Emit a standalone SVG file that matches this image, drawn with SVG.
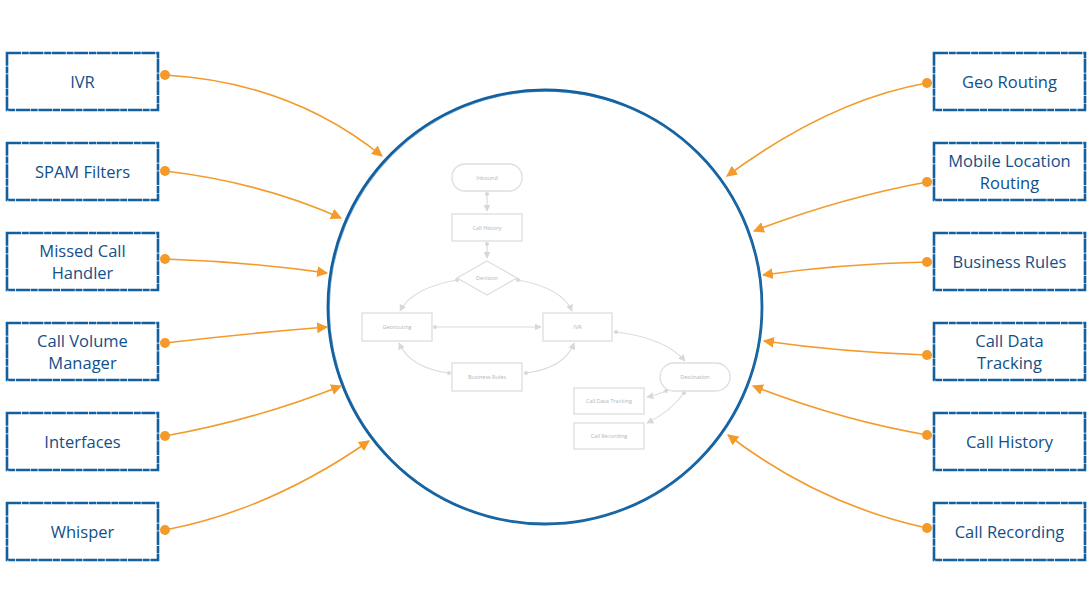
<svg xmlns="http://www.w3.org/2000/svg" width="1091" height="614" viewBox="0 0 1091 614">
<defs>
<style>
.box{fill:#fff;stroke:#14609e;stroke-width:2.6;stroke-dasharray:14 0.8 7 0.6}
.lbl{font-family:"Open Sans","Liberation Sans",sans-serif;font-size:16.5px;fill:#11508a;text-anchor:middle}
.con{fill:none;stroke:#f39a2a;stroke-width:1.6}
.dot{fill:#f39a2a}
.ib{fill:#fff;stroke:#dedede;stroke-width:1.3}
.it{font-family:"Open Sans","Liberation Sans",sans-serif;font-size:5.5px;fill:#b5b5b5;text-anchor:middle}
.il{fill:none;stroke:#dcdcdc;stroke-width:1.2}
.idot{fill:#d8d8d8}
</style>
<marker id="ah" viewBox="0 0 10 10" refX="9" refY="5" markerWidth="11" markerHeight="11" markerUnits="userSpaceOnUse" orient="auto">
<path d="M0,0 L10,5 L0,10 Z" fill="#f39a2a"/>
</marker>
<marker id="ih" viewBox="0 0 10 10" refX="9" refY="5" markerWidth="7" markerHeight="7" markerUnits="userSpaceOnUse" orient="auto">
<path d="M0,0 L10,5 L0,10 Z" fill="#d8d8d8"/>
</marker>
</defs>
<rect width="1091" height="614" fill="#fff"/>

<g id="hub">
<circle cx="545" cy="307" r="217" fill="none" stroke="#12609f" stroke-width="2.8"/>
<circle cx="545.8" cy="307.6" r="216.5" fill="none" stroke="#2c74b0" stroke-width="1" opacity="0.6"/>
</g>

<g id="inner">
<g class="il">
<path d="M487,194 L487,211" marker-end="url(#ih)"/>
<path d="M487,244 L487,258" marker-end="url(#ih)"/>
<path d="M457,280 Q412,288 400,311" marker-end="url(#ih)"/>
<path d="M518,280 Q562,288 572,311" marker-end="url(#ih)"/>
<path d="M435,327 L541,327" marker-end="url(#ih)"/>
<path d="M449,373 Q410,368 399,343" marker-end="url(#ih)"/>
<path d="M526,373 Q565,368 574,343" marker-end="url(#ih)"/>
<path d="M616,332 Q665,338 685,361" marker-end="url(#ih)"/>
<path d="M666,391 Q657,395 647,397" marker-end="url(#ih)"/>
<path d="M684,393 Q670,412 647,423" marker-end="url(#ih)"/>
</g>
<g class="idot">
<circle cx="487" cy="194" r="2"/>
<circle cx="487" cy="244" r="2"/>
<circle cx="457" cy="280" r="2"/>
<circle cx="518" cy="280" r="2"/>
<circle cx="435" cy="327" r="2"/>
<circle cx="449" cy="373" r="2"/>
<circle cx="526" cy="373" r="2"/>
<circle cx="616" cy="332" r="2"/>
<circle cx="666" cy="391" r="2"/>
<circle cx="684" cy="393" r="2"/>
</g>
<g id="i-inbound"><rect class="ib" x="452" y="164" width="70" height="27" rx="13"/><text class="it" x="487" y="179.5">Inbound</text></g>
<g id="i-callhistory"><rect class="ib" x="452" y="214" width="70" height="27"/><text class="it" x="487" y="229.5">Call History</text></g>
<g id="i-decision"><path class="ib" d="M487,261 L517,278 L487,295 L457,278 Z"/><text class="it" x="487" y="280">Decision</text></g>
<g id="i-georouting"><rect class="ib" x="362" y="313" width="70" height="28"/><text class="it" x="397" y="329">Georouting</text></g>
<g id="i-ivr"><rect class="ib" x="543" y="313" width="69" height="28"/><text class="it" x="577.5" y="329">IVR</text></g>
<g id="i-business"><rect class="ib" x="452" y="363" width="70" height="28"/><text class="it" x="487" y="379">Business Rules</text></g>
<g id="i-destination"><rect class="ib" x="660" y="363" width="70" height="28" rx="14"/><text class="it" x="695" y="379">Destination</text></g>
<g id="i-cdt"><rect class="ib" x="574" y="388" width="70" height="26"/><text class="it" x="609" y="403">Call Data Tracking</text></g>
<g id="i-rec"><rect class="ib" x="574" y="423" width="70" height="26"/><text class="it" x="609" y="438">Call Recording</text></g>
</g>

<g id="connectors">
<path class="con" d="M165,75 Q290,82 382,156" marker-end="url(#ah)"/>
<path class="con" d="M165,171 Q260,182 341,218" marker-end="url(#ah)"/>
<path class="con" d="M165,259 Q250,262 327,273" marker-end="url(#ah)"/>
<path class="con" d="M165,343 Q250,333 327,327" marker-end="url(#ah)"/>
<path class="con" d="M165,436 Q255,420 341,386" marker-end="url(#ah)"/>
<path class="con" d="M165,530 Q270,510 369,441" marker-end="url(#ah)"/>
<path class="con" d="M927,83 Q830,100 727,176" marker-end="url(#ah)"/>
<path class="con" d="M927,182 Q840,198 754,231" marker-end="url(#ah)"/>
<path class="con" d="M927,262 Q840,264 763,275" marker-end="url(#ah)"/>
<path class="con" d="M927,355 Q840,352 764,341" marker-end="url(#ah)"/>
<path class="con" d="M927,435 Q840,420 753,386" marker-end="url(#ah)"/>
<path class="con" d="M927,528 Q820,505 728,435" marker-end="url(#ah)"/>
<g class="dot">
<circle cx="165" cy="75" r="5"/><circle cx="165" cy="171" r="5"/><circle cx="165" cy="259" r="5"/>
<circle cx="165" cy="343" r="5"/><circle cx="165" cy="436" r="5"/><circle cx="165" cy="530" r="5"/>
<circle cx="927" cy="83" r="5"/><circle cx="927" cy="182" r="5"/><circle cx="927" cy="262" r="5"/>
<circle cx="927" cy="355" r="5"/><circle cx="927" cy="435" r="5"/><circle cx="927" cy="528" r="5"/>
</g>
</g>

<g id="n-ivr"><rect class="box" x="7" y="53" width="151" height="57"/><text class="lbl" x="82.5" y="88">IVR</text></g>
<g id="n-spam"><rect class="box" x="7" y="143" width="151" height="57"/><text class="lbl" x="82.5" y="178">SPAM Filters</text></g>
<g id="n-missed"><rect class="box" x="7" y="233" width="151" height="57"/><text class="lbl" x="82.5" y="257">Missed Call</text><text class="lbl" x="82.5" y="279">Handler</text></g>
<g id="n-volume"><rect class="box" x="7" y="323" width="151" height="57"/><text class="lbl" x="82.5" y="347">Call Volume</text><text class="lbl" x="82.5" y="369">Manager</text></g>
<g id="n-interfaces"><rect class="box" x="7" y="413" width="151" height="57"/><text class="lbl" x="82.5" y="448">Interfaces</text></g>
<g id="n-whisper"><rect class="box" x="7" y="503" width="151" height="57"/><text class="lbl" x="82.5" y="538">Whisper</text></g>

<g id="n-geo"><rect class="box" x="934" y="53" width="151" height="57"/><text class="lbl" x="1009.5" y="88">Geo Routing</text></g>
<g id="n-mobile"><rect class="box" x="934" y="143" width="151" height="57"/><text class="lbl" x="1009.5" y="167">Mobile Location</text><text class="lbl" x="1009.5" y="189">Routing</text></g>
<g id="n-business"><rect class="box" x="934" y="233" width="151" height="57"/><text class="lbl" x="1009.5" y="268">Business Rules</text></g>
<g id="n-cdt"><rect class="box" x="934" y="323" width="151" height="57"/><text class="lbl" x="1009.5" y="347">Call Data</text><text class="lbl" x="1009.5" y="369">Tracking</text></g>
<g id="n-history"><rect class="box" x="934" y="413" width="151" height="57"/><text class="lbl" x="1009.5" y="448">Call History</text></g>
<g id="n-recording"><rect class="box" x="934" y="503" width="151" height="57"/><text class="lbl" x="1009.5" y="538">Call Recording</text></g>
</svg>
